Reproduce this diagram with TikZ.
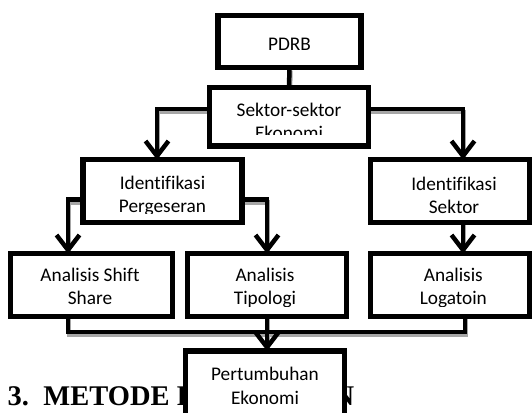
\documentclass[tikz,border=0pt]{standalone}
\usepackage{fontspec}
\setmainfont{Carlito}[Ligatures={NoCommon}]
\newfontfamily\headfont{Liberation Serif}
\usetikzlibrary{arrows.meta,backgrounds}
\tikzset{
  box/.style={draw, line width=5.5pt, fill=white, inner sep=0pt, outer sep=0pt},
  conn/.style={line width=4.5pt},
  arr/.style={conn, -{Straight Barb[length=15pt,width=23pt]}},
  shadowline/.style={line width=4.5pt, draw=gray!70, transform canvas={shift={(1pt,-3pt)}}},
  txt/.style={font=\fontsize{19.3}{23}\selectfont, inner sep=0pt, anchor=base},
}
\newcommand\boxlbl[7]{%
  \begin{scope}
    \clip ({#2-85},0) rectangle ({#2+85},#5);
    \node[txt] (#1a) at (#2,#3) {#6};
    \node[txt] (#1b) at (#2,#4) {#7};
  \end{scope}}
\begin{document}
\begin{tikzpicture}[x=1pt,y=-1pt]
\useasboundingbox (0,0) rectangle (532,412);
\clip (0,0) rectangle (532,412);

% heading (partly hidden by the last box)
\node[anchor=base west, inner sep=0pt, font=\headfont\bfseries\fontsize{28.5}{30}\selectfont] (head) at (7.3,405) {3.\hspace{14.6pt}METODE PENELITIAN};

% boxes
\node[box, minimum width=142.6pt, minimum height=52pt]   (pdrb) at (289.5,41.5) {};
\node[box, minimum width=158.6pt, minimum height=58.5pt] (sek)  at (289,116.7) {};
\node[box, minimum width=159.3pt, minimum height=62.6pt] (ip)   at (162.5,191) {};
\node[box, minimum width=158.6pt, minimum height=62.6pt] (is)   at (450,191) {};
\node[box, minimum width=161.6pt, minimum height=62.6pt] (b1)   at (91.5,285) {};
\node[box, minimum width=158.6pt, minimum height=62.6pt] (b2)   at (267,285) {};
\node[box, minimum width=158.6pt, minimum height=62.6pt] (b3)   at (450,285) {};
\node[box, minimum width=158.6pt, minimum height=100pt]  (pe)   at (265,401) {};
\coordinate (j) at (267,332);

% texts
\node[txt] (pdrbt) at (289.5,50.2) {PDRB};
\boxlbl{sekt}{289}{116}{139.2}{134}{Sektor-sektor}{Ekonomi}
\boxlbl{ipt}{162.5}{189.3}{212.5}{213.5}{Identifikasi}{Pergeseran}
\boxlbl{ist}{454}{190}{213.3}{219}{Identifikasi}{Sektor}
\boxlbl{bonet}{90}{281.7}{304.5}{307}{Analisis Shift}{Share}
\boxlbl{btwot}{265}{281.7}{304.5}{306.5}{Analisis}{Tipologi}
\boxlbl{bthreet}{453.3}{281.7}{304.5}{306.5}{Analisis}{Logatoin}
\boxlbl{pet}{265}{380}{404}{420}{Pertumbuhan}{Ekonomi}

% connectors
\begin{scope}[on background layer]
  \draw[shadowline] (pdrb.south) -- (sek.north);
  \draw[shadowline] ([yshift=7.7pt]sek.west) -| ([xshift=-5.5pt]ip.north);
  \draw[shadowline] ([yshift=7.7pt]sek.east) -| ([xshift=13pt]is.north);
  \draw[shadowline] ([yshift=-8.6pt]ip.west) -| ([xshift=-23.5pt]b1.north);
  \draw[shadowline] ([yshift=-8.6pt]ip.east) -| (b2.north);
  \draw[shadowline] ([xshift=13pt]is.south) -- ([xshift=13pt]b3.north);
  \draw[shadowline] ([xshift=-23.5pt]b1.south) |- (j) -| ([xshift=15pt]b3.south);
  \draw[shadowline] (b2.south) -- (b2.south |- pe.north);

  \draw[conn] (pdrb.south) -- (sek.north);
  \draw[arr] ([yshift=7.7pt]sek.west) -| ([xshift=-5.5pt]ip.north);
  \draw[arr] ([yshift=7.7pt]sek.east) -| ([xshift=13pt]is.north);
  \draw[arr] ([yshift=-8.6pt]ip.west) -| ([xshift=-23.5pt]b1.north);
  \draw[arr] ([yshift=-8.6pt]ip.east) -| (b2.north);
  \draw[arr] ([xshift=13pt]is.south) -- ([xshift=13pt]b3.north);
  \draw[conn] ([xshift=-23.5pt]b1.south) |- (j) -| ([xshift=15pt]b3.south);
  \draw[arr] (b2.south) -- (b2.south |- pe.north);
\end{scope}
\end{tikzpicture}
\end{document}
